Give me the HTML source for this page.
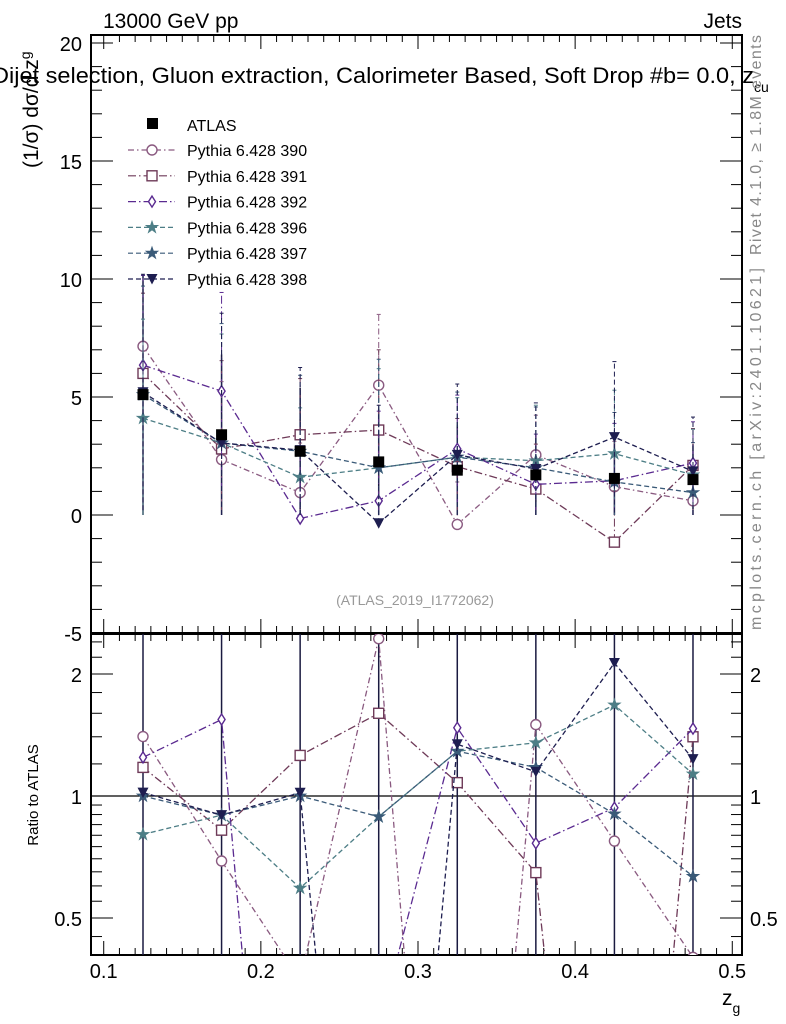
<!DOCTYPE html>
<html><head><meta charset="utf-8"><style>
html,body{margin:0;padding:0;background:#fff;overflow:hidden;width:786px;height:1024px;}
svg{font-family:"Liberation Sans",sans-serif;display:block;}
</style></head><body>
<svg id="c" width="786" height="1024" xmlns="http://www.w3.org/2000/svg"></svg>
<script>
const xBins=[0.125,0.175,0.225,0.275,0.325,0.375,0.425,0.475];
const atlasVals=[5.1,3.4,2.7,2.25,1.9,1.7,1.55,1.5];
const atlasErr=[5.1,3.4,2.7,2.25,1.9,1.7,1.55,1.5];
const mc390=[7.15,2.35,0.95,5.5,-0.4,2.55,1.2,0.6];
const mc391=[6.0,2.8,3.4,3.6,2.05,1.1,-1.15,2.1];
const mc392=[6.35,5.25,-0.15,0.6,2.8,1.3,1.45,2.2];
const mc396=[4.1,3.05,1.6,2.0,2.45,2.3,2.6,1.7];
const mc397=[5.1,3.05,2.7,2.0,2.45,2.0,1.4,0.95];
const mc398=[5.2,3.05,2.75,-0.35,2.55,1.95,3.3,1.85];
const mcErr=[5.0,5.5,3.5,5.0,3.0,2.8,3.2,2.3];
const mainTicks=[-5,0,5,10,15,20];
const ratioTicks=[0.5,1,2];
const xTicks=[0.1,0.2,0.3,0.4,0.5];
const seriesNames=["Pythia 6.428 390","Pythia 6.428 391","Pythia 6.428 392","Pythia 6.428 396","Pythia 6.428 397","Pythia 6.428 398"];

const S=document.getElementById('c');const NS="http://www.w3.org/2000/svg";
function mk(t,a,p){const e=document.createElementNS(NS,t);for(const k in a)e.setAttribute(k,a[k]);(p||S).appendChild(e);return e;}
const X=v=>143+(v-0.125)*1571.4;
const Y=v=>515-23.6*v;
const R=r=>796-122*Math.log2(r);
const L=91,Rt=742,T1=35,B1=633,T2=634,B2=955;

const defs=mk('defs',{});
const c1=mk('clipPath',{id:'c1'},defs);mk('rect',{x:L,y:T1,width:Rt-L,height:B1-T1},c1);
const c2=mk('clipPath',{id:'c2'},defs);mk('rect',{x:L,y:T2,width:Rt-L,height:B2-T2},c2);

let f=mk('rect',{x:L,y:T1,width:Rt-L,height:B1-T1,fill:'none',stroke:'#000','stroke-width':2});

f=mk('rect',{x:L,y:T2,width:Rt-L,height:B2-T2,fill:'none',stroke:'#000','stroke-width':2});


for(let v=0.1;v<=0.5001;v+=0.01){const x=X(v);const maj=Math.abs(v*10-Math.round(v*10))<1e-6;const l=maj?14:7;
 for(const [t,b] of [[T1,B1],[T2,B2]]){mk('line',{x1:x,x2:x,y1:b,y2:b-l,stroke:'#000'});mk('line',{x1:x,x2:x,y1:t,y2:t+l,stroke:'#000'});}}
xTicks.forEach(v=>{const t=mk('text',{x:X(v),y:978,'font-size':20,'text-anchor':'middle'});t.textContent=String(v);
 });
for(let v=-5;v<=20;v+=1){const y=Y(v);const maj=v%5==0;const l=maj?22:11;
 mk('line',{x1:L,x2:L+l,y1:y,y2:y,stroke:'#000'});mk('line',{x1:Rt,x2:Rt-l,y1:y,y2:y,stroke:'#000'});}
mainTicks.forEach(v=>{const t=mk('text',{x:82,y:Y(v)+8,'font-size':20,'text-anchor':'end'});t.textContent=String(v);
 });
for(const v of [0.5,0.6,0.7,0.8,0.9,1,2]){const y=R(v);const maj=ratioTicks.includes(v);const l=maj?22:11;
 mk('line',{x1:L,x2:L+l,y1:y,y2:y,stroke:'#000'});mk('line',{x1:Rt,x2:Rt-l,y1:y,y2:y,stroke:'#000'});}
for(const v of [0.45,0.55,0.65,0.75,0.85,0.95,1.2,1.4,1.6,1.8,2.2,2.4]){const y=R(v);
 mk('line',{x1:L,x2:L+11,y1:y,y2:y,stroke:'#000'});mk('line',{x1:Rt,x2:Rt-11,y1:y,y2:y,stroke:'#000'});}
ratioTicks.forEach(v=>{for(const [x,a] of [[82,'end'],[750,'start']]){const t=mk('text',{x:x,y:R(v)+8,'font-size':20,'text-anchor':a});t.textContent=String(v);
 }});
mk('line',{x1:L,x2:Rt,y1:R(1),y2:R(1),stroke:'#000','stroke-width':1.3});

function txt(s,a,name){const t=mk('text',a);t.innerHTML=s;return t;}
txt('13000 GeV pp',{x:103,y:28,'font-size':21},'energy-label');
txt('Jets',{x:742,y:28,'font-size':21,'text-anchor':'end'},'process-label');
txt('<tspan textLength="762" lengthAdjust="spacingAndGlyphs">Dijet selection, Gluon extraction, Calorimeter Based, Soft Drop #b= 0.0, z</tspan><tspan font-size="14" dy="9">cu</tspan>',{x:-8,y:83,'font-size':22},'plot-title');
txt('(1/σ) dσ/d z<tspan font-size="14" dy="-8">g</tspan>',{x:-168,y:38,'font-size':21,transform:'rotate(-90)'},'y-axis-title');
txt('Ratio to ATLAS',{x:-795,y:38,'font-size':15,'text-anchor':'middle',transform:'rotate(-90)'},'ratio-axis-title');
txt('z<tspan font-size="14" dy="8">g</tspan>',{x:722,y:1005,'font-size':21},'x-axis-title');
txt('Rivet 4.1.0, ≥ 1.8M events',{x:-255,y:761,'font-size':16,fill:'#888',textLength:220,lengthAdjust:'spacing',transform:'rotate(-90)'},'rivet-label');
txt('mcplots.cern.ch [arXiv:2401.10621]',{x:-630,y:761,'font-size':16,fill:'#888',textLength:362,lengthAdjust:'spacing',transform:'rotate(-90)'},'mcplots-label');
txt('(ATLAS_2019_I1772062)',{x:415,y:605,'font-size':14,fill:'#999','text-anchor':'middle'},'analysis-id');

const series=[
 {v:mc390,c:'#8a5a80',d:'6,3,1.5,3',m:'circle'},
 {v:mc391,c:'#6e3a58',d:'8,3,1.5,3',m:'square'},
 {v:mc392,c:'#5a2a90',d:'8,3,1.5,3',m:'diamond'},
 {v:mc396,c:'#4d7e86',d:'5,3',m:'star'},
 {v:mc397,c:'#3a5a78',d:'5,3',m:'star'},
 {v:mc398,c:'#1e1e50',d:'5,3',m:'tri'}];
function marker(m,x,y,c,g){
 if(m=='circle')return mk('circle',{cx:x,cy:y,r:5,fill:'#fff',stroke:c,'stroke-width':1.4},g);
 if(m=='square')return mk('rect',{x:x-5,y:y-5,width:10,height:10,fill:'#fff',stroke:c,'stroke-width':1.4},g);
 if(m=='diamond')return mk('path',{d:`M${x} ${y-5.5}L${x+3.5} ${y}L${x} ${y+5.5}L${x-3.5} ${y}Z`,fill:'#fff',stroke:c,'stroke-width':1.4},g);
 if(m=='tri')return mk('path',{d:`M${x-5.5} ${y-5}L${x+5.5} ${y-5}L${x} ${y+5.5}Z`,fill:c},g);
 let p='';for(let i=0;i<10;i++){const r=i%2?2.3:6,a=-Math.PI/2+i*Math.PI/5;p+=(i?'L':'M')+(x+r*Math.cos(a)).toFixed(1)+' '+(y+r*Math.sin(a)).toFixed(1);}
 return mk('path',{d:p+'Z',fill:c,stroke:c,'stroke-width':1},g);}
const gm=mk('g',{'clip-path':'url(#c1)'});const gr=mk('g',{'clip-path':'url(#c2)'});
atlasVals.forEach((v,i)=>{mk('line',{x1:X(xBins[i]),x2:X(xBins[i]),y1:Y(v-atlasErr[i]),y2:Y(v+atlasErr[i]),stroke:'#1a1a40','stroke-width':1.5},gm);
 mk('line',{x1:X(xBins[i]),x2:X(xBins[i]),y1:R(0.01),y2:R(10),stroke:'#1a1a40','stroke-width':1.5},gr);});
series.forEach((s,k)=>{
 const g=mk('g',{},gm);
 const g2=mk('g',{},gr);
 s.v.forEach((v,i)=>{const e=mcErr[i]*(0.6+0.08*k);mk('line',{x1:X(xBins[i]),x2:X(xBins[i]),y1:Y(Math.max(v-e,Math.min(v,0))),y2:Y(v+e),stroke:s.c,'stroke-dasharray':s.d},g);
  mk('line',{x1:X(xBins[i])-2,x2:X(xBins[i])+2,y1:Y(v+e),y2:Y(v+e),stroke:s.c},g);});
 mk('polyline',{points:s.v.map((v,i)=>X(xBins[i])+','+Y(v)).join(' '),fill:'none',stroke:s.c,'stroke-width':1.3,'stroke-dasharray':s.d},g);
 const rv=s.v.map((v,i)=>v/atlasVals[i]);
 mk('polyline',{points:rv.map((v,i)=>X(xBins[i])+','+R(Math.max(v,0.01))).join(' '),fill:'none',stroke:s.c,'stroke-width':1.3,'stroke-dasharray':s.d},g2);
 s.v.forEach((v,i)=>{const p=marker(s.m,X(xBins[i]),Y(v),s.c,g);});
 rv.forEach((v,i)=>{if(v>0){const p=marker(s.m,X(xBins[i]),R(v),s.c,g2);}});
});
atlasVals.forEach((v,i)=>{const p=mk('rect',{x:X(xBins[i])-5.5,y:Y(v)-5.5,width:11,height:11,fill:'#000'},gm);
 });

const lg=mk('g',{});
mk('rect',{x:147,y:118,width:11,height:11,fill:'#000'},lg);
txt('ATLAS',{x:187,y:131,'font-size':16},'legend-entry-atlas');
series.forEach((s,k)=>{const y=150+k*25.8;
 mk('line',{x1:128,x2:175,y1:y,y2:y,stroke:s.c,'stroke-dasharray':s.d,'stroke-width':1.2},lg);
 marker(s.m,152,y,s.c,lg);
 txt(seriesNames[k],{x:187,y:y+6,'font-size':16},'legend-entry');});
</script>
</body></html>
